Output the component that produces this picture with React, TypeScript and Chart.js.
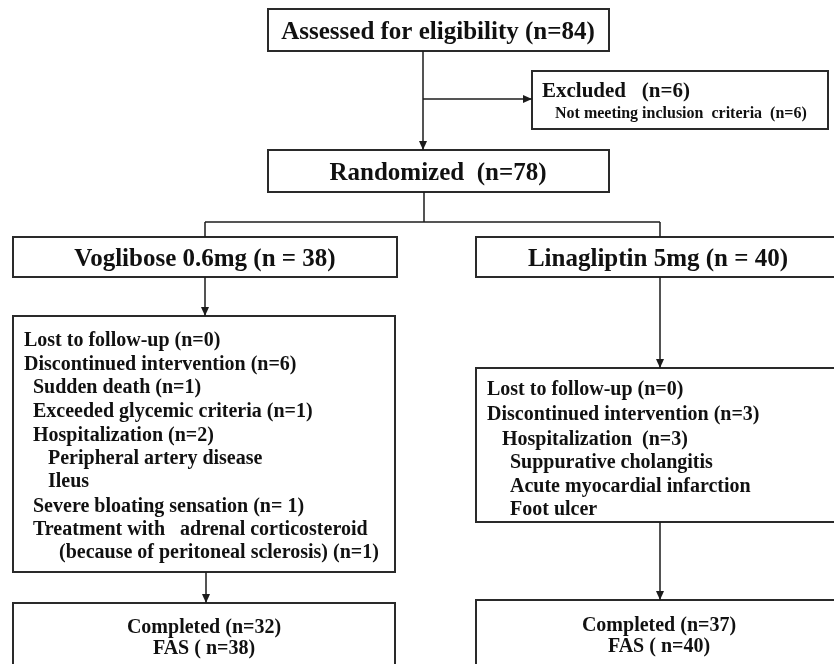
import React, { useEffect, useRef } from "react";
import { Chart, registerables } from "chart.js";

Chart.register(...registerables);

// ---- Boxes (flowchart nodes), in chart units (x: 0..834, y: 0..664 top-down)
const boxX0 = [268, 532, 268, 13, 476, 13, 476, 13, 476];
const boxY0 = [9, 71, 150, 237, 237, 316, 368, 603, 600];
const boxX1 = [609, 828, 609, 397, 842, 395, 842, 395, 842];
const boxY1 = [51, 129, 192, 277, 277, 572, 522, 690, 690];

// ---- Text lines
const textStr = [
  "Assessed for eligibility (n=84)",
  "Excluded   (n=6)",
  "Not meeting inclusion  criteria  (n=6)",
  "Randomized  (n=78)",
  "Voglibose 0.6mg (n = 38)",
  "Linagliptin 5mg (n = 40)",
  "Lost to follow-up (n=0)",
  "Discontinued intervention (n=6)",
  "Sudden death (n=1)",
  "Exceeded glycemic criteria (n=1)",
  "Hospitalization (n=2)",
  "Peripheral artery disease",
  "Ileus",
  "Severe bloating sensation (n= 1)",
  "Treatment with   adrenal corticosteroid",
  "(because of peritoneal sclerosis) (n=1)",
  "Lost to follow-up (n=0)",
  "Discontinued intervention (n=3)",
  "Hospitalization  (n=3)",
  "Suppurative cholangitis",
  "Acute myocardial infarction",
  "Foot ulcer",
  "Completed (n=32)",
  "FAS ( n=38)",
  "Completed (n=37)",
  "FAS ( n=40)",
];
const textX = [
  438, 542, 555, 438, 205, 658,
  24, 24, 33, 33, 33, 48, 48, 33, 33, 59,
  487, 487, 502, 510, 510, 510,
  204, 204, 659, 659,
];
const textY = [
  39, 97, 118, 180, 266, 266,
  346, 370, 393, 417, 441, 464, 487, 512, 535, 558,
  395, 420, 445, 468, 492, 515,
  633, 654, 631, 652,
];
const textSize = [
  25, 21, 16, 25, 25, 25,
  20, 20, 20, 20, 20, 20, 20, 20, 20, 20,
  20, 20, 20, 20, 20, 20,
  20, 20, 20, 20,
];
const textAlign = [
  "center", "left", "left", "center", "center", "center",
  "left", "left", "left", "left", "left", "left", "left", "left", "left", "left",
  "left", "left", "left", "left", "left", "left",
  "center", "center", "center", "center",
];

// ---- Connectors (polylines); arrowAtEnd marks an arrowhead at the last point
const connectors = [
  { xs: [423, 423], ys: [51, 150], arrow: true },
  { xs: [423, 532], ys: [99, 99], arrow: true },
  { xs: [424, 424], ys: [192, 222], arrow: false },
  { xs: [205, 660], ys: [222, 222], arrow: false },
  { xs: [205, 205], ys: [222, 237], arrow: false },
  { xs: [660, 660], ys: [222, 237], arrow: false },
  { xs: [205, 205], ys: [277, 316], arrow: true },
  { xs: [660, 660], ys: [277, 368], arrow: true },
  { xs: [206, 206], ys: [572, 603], arrow: true },
  { xs: [660, 660], ys: [522, 600], arrow: true },
];

const LINE = "#1c1c1c";
const FONT = '"Liberation Serif", "Times New Roman", serif';

const flowPlugin = {
  id: "flow",
  beforeDatasetsDraw(chart: any) {
    const { ctx, scales } = chart;
    const sx = scales.x, sy = scales.y;
    ctx.save();
    for (let i = 0; i < boxX0.length; i++) {
      const x0 = sx.getPixelForValue(boxX0[i]);
      const x1 = sx.getPixelForValue(boxX1[i]);
      const y0 = sy.getPixelForValue(boxY0[i]);
      const y1 = sy.getPixelForValue(boxY1[i]);
      ctx.fillStyle = "#ffffff";
      ctx.fillRect(x0, y0, x1 - x0, y1 - y0);
      ctx.strokeStyle = "#2a2a2a";
      ctx.lineWidth = 2;
      ctx.strokeRect(x0, y0, x1 - x0, y1 - y0);
    }
    ctx.restore();
  },
  afterDatasetsDraw(chart: any) {
    const { ctx, scales } = chart;
    const sx = scales.x, sy = scales.y;
    ctx.save();
    // arrowheads
    ctx.fillStyle = LINE;
    connectors.forEach((c) => {
      if (!c.arrow) return;
      const n = c.xs.length;
      const ex = sx.getPixelForValue(c.xs[n - 1]);
      const ey = sy.getPixelForValue(c.ys[n - 1]);
      const px = sx.getPixelForValue(c.xs[n - 2]);
      const py = sy.getPixelForValue(c.ys[n - 2]);
      const ang = Math.atan2(ey - py, ex - px);
      const L = 9, W = 4;
      ctx.beginPath();
      ctx.moveTo(ex, ey);
      ctx.lineTo(ex - L * Math.cos(ang) + W * Math.sin(ang), ey - L * Math.sin(ang) - W * Math.cos(ang));
      ctx.lineTo(ex - L * Math.cos(ang) - W * Math.sin(ang), ey - L * Math.sin(ang) + W * Math.cos(ang));
      ctx.closePath();
      ctx.fill();
    });
    // text
    ctx.fillStyle = "#111111";
    ctx.textBaseline = "alphabetic";
    for (let i = 0; i < textStr.length; i++) {
      ctx.font = `bold ${textSize[i]}px ${FONT}`;
      ctx.textAlign = textAlign[i];
      ctx.fillText(textStr[i], sx.getPixelForValue(textX[i]), sy.getPixelForValue(textY[i]));
    }
    ctx.restore();
  },
};

export default function App() {
  const ref = useRef<HTMLCanvasElement | null>(null);
  useEffect(() => {
    document.body.style.margin = "0";
    const canvas = ref.current!;
    const chart = new Chart(canvas, {
      type: "scatter",
      data: {
        datasets: connectors.map((c) => ({
          data: c.xs.map((x, i) => ({ x, y: c.ys[i] })),
          showLine: true,
          borderColor: LINE,
          borderWidth: 1.5,
          pointRadius: 0,
          fill: false,
          clip: false,
        })),
      },
      options: {
        animation: false,
        responsive: false,
        devicePixelRatio: 1,
        layout: { padding: 0 },
        plugins: { legend: { display: false }, tooltip: { enabled: false } },
        events: [],
        scales: {
          x: { type: "linear", min: 0, max: 834, display: false },
          y: { type: "linear", min: 0, max: 664, reverse: true, display: false },
        },
      },
      plugins: [flowPlugin],
    } as any);
    return () => chart.destroy();
  }, []);
  return (
    <div style={{ width: 834, height: 664, background: "#fff" }}>
      <canvas ref={ref} width={834} height={664} style={{ display: "block" }} />
    </div>
  );
}
